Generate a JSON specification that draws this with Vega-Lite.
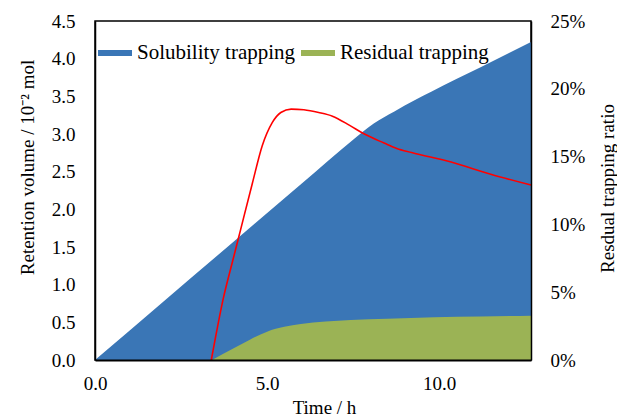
{
  "$schema": "https://vega.github.io/schema/vega-lite/v6.json",
  "width": 436,
  "height": 339,
  "autosize": {"type": "none"},
  "padding": {"left": 95, "top": 21, "right": 86, "bottom": 58},
  "background": "#ffffff",
  "datasets": {
    "solubility": [
      {"t": 0, "v": 0, "series": "Solubility trapping"},
      {"t": 2, "v": 0.78, "series": "Solubility trapping"},
      {"t": 4, "v": 1.56, "series": "Solubility trapping"},
      {"t": 6, "v": 2.34, "series": "Solubility trapping"},
      {"t": 7.5, "v": 2.925, "series": "Solubility trapping"},
      {"t": 8.1, "v": 3.14, "series": "Solubility trapping"},
      {"t": 8.7, "v": 3.3, "series": "Solubility trapping"},
      {"t": 9.3, "v": 3.45, "series": "Solubility trapping"},
      {"t": 9.77, "v": 3.56, "series": "Solubility trapping"},
      {"t": 10.5, "v": 3.73, "series": "Solubility trapping"},
      {"t": 11.22, "v": 3.89, "series": "Solubility trapping"},
      {"t": 12.67, "v": 4.22, "series": "Solubility trapping"}
    ],
    "residual": [
      {"t": 3.4, "v": 0, "series": "Residual trapping"},
      {"t": 4.03, "v": 0.155, "series": "Residual trapping"},
      {"t": 4.5, "v": 0.27, "series": "Residual trapping"},
      {"t": 5.0, "v": 0.376, "series": "Residual trapping"},
      {"t": 5.5, "v": 0.44, "series": "Residual trapping"},
      {"t": 5.98, "v": 0.478, "series": "Residual trapping"},
      {"t": 6.7, "v": 0.51, "series": "Residual trapping"},
      {"t": 7.43, "v": 0.53, "series": "Residual trapping"},
      {"t": 8.5, "v": 0.548, "series": "Residual trapping"},
      {"t": 9.86, "v": 0.567, "series": "Residual trapping"},
      {"t": 11.2, "v": 0.578, "series": "Residual trapping"},
      {"t": 12.67, "v": 0.588, "series": "Residual trapping"}
    ],
    "ratio": [
      {"t": 3.38, "r": 0},
      {"t": 3.74, "r": 0.0467},
      {"t": 4.0, "r": 0.073},
      {"t": 4.23, "r": 0.096},
      {"t": 4.57, "r": 0.13},
      {"t": 4.86, "r": 0.158},
      {"t": 5.15, "r": 0.175},
      {"t": 5.4, "r": 0.1825},
      {"t": 5.7, "r": 0.185},
      {"t": 6.07, "r": 0.1845},
      {"t": 6.5, "r": 0.1825},
      {"t": 6.9, "r": 0.1798},
      {"t": 7.4, "r": 0.173},
      {"t": 7.8, "r": 0.167},
      {"t": 8.4, "r": 0.16},
      {"t": 8.77, "r": 0.156},
      {"t": 9.2, "r": 0.153},
      {"t": 10.35, "r": 0.146},
      {"t": 11.5, "r": 0.137},
      {"t": 12.67, "r": 0.129}
    ]
  },
  "layer": [
    {
      "encoding": {
        "x": {
          "field": "t",
          "type": "quantitative",
          "scale": {"domain": [0, 12.67], "nice": false, "zero": false},
          "axis": {
            "title": "Time / h",
            "values": [0, 5, 10],
            "format": ".1f",
            "labelFlush": false,
            "labelPadding": 14,
            "domainWidth": 2,
            "zindex": 1,
            "titleX": 229,
            "titleY": 47,
            "titleBaseline": "middle"
          }
        },
        "y": {
          "field": "v",
          "type": "quantitative",
          "scale": {"domain": [0, 4.5], "nice": false},
          "axis": {
            "title": "Retention volume / 10⁻² mol",
            "values": [0, 0.5, 1, 1.5, 2, 2.5, 3, 3.5, 4, 4.5],
            "format": ".1f",
            "labelPadding": 20,
            "domainWidth": 1.5,
            "zindex": 1,
            "titleX": -68,
            "titleY": 146,
            "titleAngle": -90,
            "titleAlign": "center",
            "titleBaseline": "middle"
          }
        },
        "color": {
          "field": "series",
          "type": "nominal",
          "scale": {
            "domain": ["Solubility trapping", "Residual trapping"],
            "range": ["#3a76b6", "#9bb355"]
          },
          "legend": {
            "title": null,
            "orient": "none",
            "legendX": 3,
            "legendY": 15,
            "direction": "horizontal",
            "symbolType": "M-1,-0.17H1V0.17H-1Z",
            "symbolSize": 1156,
            "symbolStrokeWidth": 0,
            "labelOffset": 5,
            "columnPadding": 5,
            "padding": 0
          }
        }
      },
      "layer": [
        {
          "data": {"name": "solubility"},
          "mark": {"type": "area", "interpolate": "monotone", "opacity": 1}
        },
        {
          "data": {"name": "residual"},
          "mark": {"type": "area", "interpolate": "monotone", "opacity": 1}
        }
      ]
    },
    {
      "data": {"name": "ratio"},
      "mark": {"type": "line", "interpolate": "monotone", "color": "#ff0000", "strokeWidth": 1.6},
      "encoding": {
        "x": {"field": "t", "type": "quantitative"},
        "y": {
          "field": "r",
          "type": "quantitative",
          "scale": {"domain": [0, 0.25], "nice": false},
          "axis": {
            "orient": "right",
            "title": "Resdual trapping ratio",
            "values": [0, 0.05, 0.1, 0.15, 0.2, 0.25],
            "format": ".0%",
            "labelPadding": 19,
            "domainWidth": 1.5,
            "zindex": 1,
            "titleX": 76,
            "titleY": 167,
            "titleAngle": -90,
            "titleAlign": "center",
            "titleBaseline": "middle"
          }
        }
      }
    }
  ],
  "resolve": {"scale": {"y": "independent"}},
  "config": {
    "font": "Liberation Serif",
    "view": {"stroke": "#000000", "strokeWidth": 1.5},
    "axis": {
      "grid": false,
      "ticks": false,
      "domainColor": "#000000",
      "labelFont": "Liberation Serif",
      "labelFontSize": 19,
      "labelColor": "#000000",
      "titleFont": "Liberation Serif",
      "titleFontSize": 19,
      "titleFontWeight": "normal",
      "titleColor": "#000000"
    },
    "legend": {
      "labelFont": "Liberation Serif",
      "labelFontSize": 21,
      "labelColor": "#000000",
      "labelLimit": 400
    }
  }
}
